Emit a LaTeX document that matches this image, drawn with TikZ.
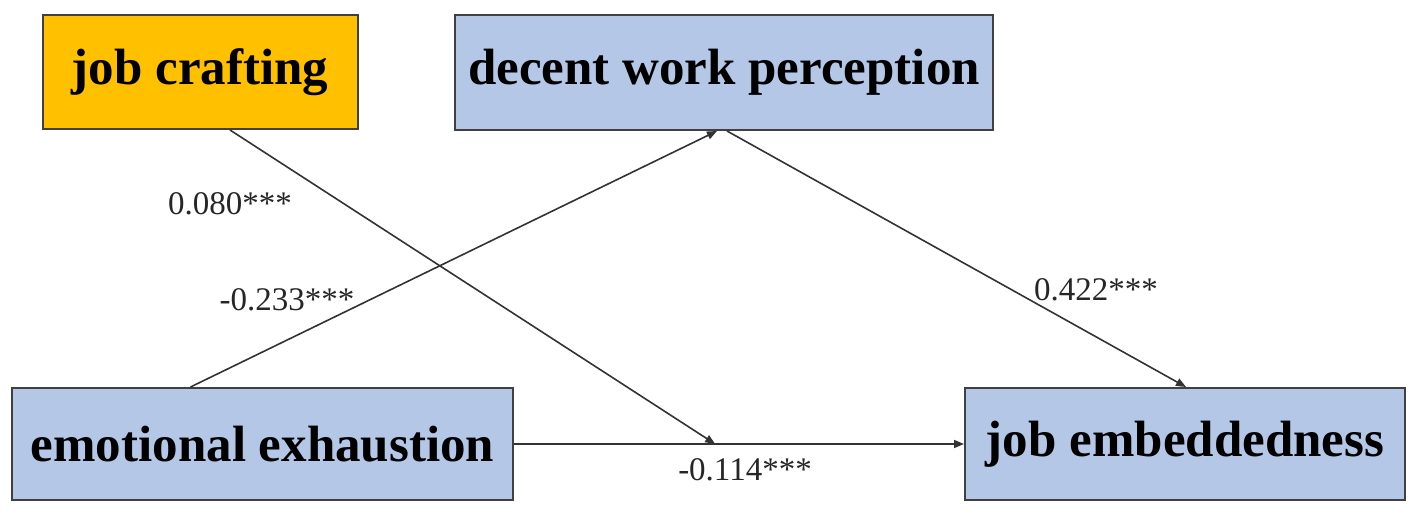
\documentclass[tikz,border=0pt]{standalone}
\usepackage{fontspec}
\setmainfont{Liberation Serif}
\usetikzlibrary{arrows.meta,calc}
\definecolor{boxblue}{HTML}{B4C7E7}
\definecolor{boxorange}{HTML}{FFC000}
\definecolor{edgegray}{HTML}{404040}
\definecolor{linegray}{HTML}{333333}
\tikzset{
  varbox/.style={draw=edgegray, line width=2pt, inner sep=0pt, align=center,
    font=\fontsize{51}{55}\selectfont\bfseries, text=black},
  conn/.style={draw=linegray, line width=1.6pt, -{Triangle[length=10pt,width=8pt]}},
  coef/.style={inner sep=0pt, font=\fontsize{33}{36}\selectfont, text=black!85}
}
\begin{document}
\begin{tikzpicture}[x=1pt,y=-1pt]
\useasboundingbox (0,0) rectangle (1418,519);
\node[varbox, fill=boxorange, minimum width=315pt, minimum height=114pt] (jc) at (200,72) {job crafting};
\node[varbox, fill=boxblue, minimum width=538pt, minimum height=115pt] (dwp) at (724,72.5) {decent work perception};
\node[varbox, fill=boxblue, minimum width=501pt, minimum height=112pt] (ee) at (262.5,444) {emotional exhaustion};
\node[varbox, fill=boxblue, minimum width=440pt, minimum height=112pt] (je) at (1185,444) {job embeddedness};
\path (ee.east) -- (je.west) coordinate[pos=0.447] (m);
\draw[conn] ([xshift=-72pt]ee.north) -- ([xshift=-7pt]dwp.south);
\draw[conn] ([xshift=30pt]jc.south) -- (m);
\draw[conn] ([xshift=3pt]dwp.south) -- ([xshift=1pt]je.north);
\draw[conn] (ee.east) -- (je.west);
\node[coef] (c1) at (230,204) {0.080***};
\node[coef] (c2) at (287,300) {-0.233***};
\node[coef] (c3) at (1096,290) {0.422***};
\node[coef] (c4) at (745,470) {-0.114***};
\end{tikzpicture}
\end{document}
